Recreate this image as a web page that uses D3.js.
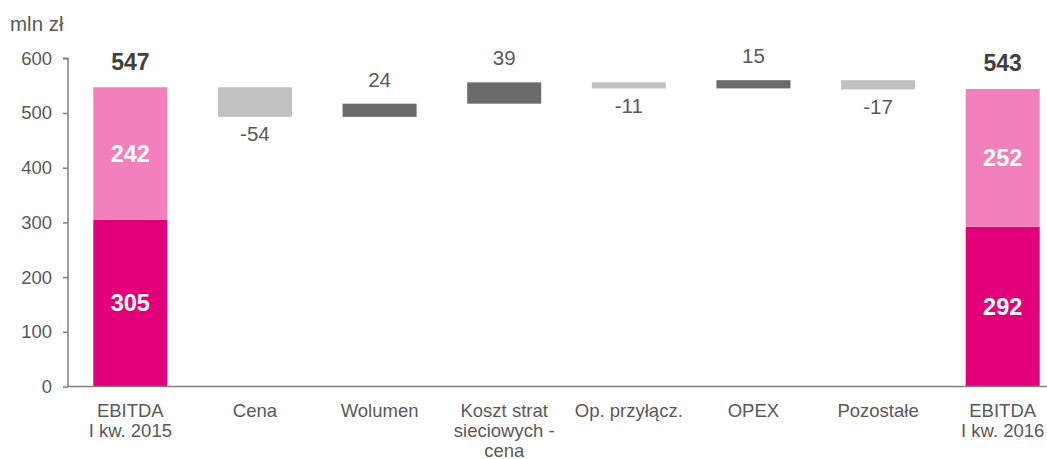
<!DOCTYPE html>
<html>
<head>
<meta charset="utf-8">
<script src="https://cdn.jsdelivr.net/npm/d3@7"></script>
<style>
  html, body { margin: 0; padding: 0; background: #fff; }
  svg { display: block; font-family: "Liberation Sans", Arial, sans-serif; }
</style>
</head>
<body>
<svg id="chart" width="1047" height="459"></svg>
<script>
// Waterfall of EBITDA change, mln zł
const categories = [
  ["EBITDA", "I kw. 2015"],
  ["Cena"],
  ["Wolumen"],
  ["Koszt strat", "sieciowych -", "cena"],
  ["Op. przyłącz."],
  ["OPEX"],
  ["Pozostałe"],
  ["EBITDA", "I kw. 2016"]
];
// Total bars: lower and upper stacked parts, plus printed totals
const totalLower = [305, 292];
const totalUpper = [242, 252];
const totalLabels = [547, 543];
// Changes between the two totals
const deltas = [-54, 24, 39, -11, 15, -17];
const yTicks = [0, 100, 200, 300, 400, 500, 600];

const colors = {
  lower: "#E2007A",
  upper: "#F280BC",
  negative: "#C1C1C1",
  positive: "#6B6B6B",
  axis: "#808080",
  text: "#595959",
  total: "#404040"
};

const svg = d3.select("#chart");
const margin = { left: 68, right: -18, top: 58.3, bottom: 72.5 };
const W = 1047, H = 459;

const x = d3.scaleBand()
  .domain(d3.range(categories.length))
  .range([margin.left, W - margin.right])
  .paddingInner(0.406)
  .paddingOuter(0.203);

const y = d3.scaleLinear()
  .domain([0, 600])
  .range([H - margin.bottom, margin.top]);

// Build the floating segments from the running total
let running = totalLower[0] + totalUpper[0];
const steps = deltas.map((d, i) => {
  const start = running;
  running += d;
  return { i: i + 1, value: d, from: start, to: running };
});

// Stacked total bars
const totals = [
  { i: 0, lower: totalLower[0], upper: totalUpper[0], label: totalLabels[0] },
  { i: categories.length - 1, lower: totalLower[1], upper: totalUpper[1], label: totalLabels[1] }
];

const g = svg.append("g");

totals.forEach(t => {
  g.append("rect")
    .attr("x", x(t.i)).attr("width", x.bandwidth())
    .attr("y", y(t.lower)).attr("height", y(0) - y(t.lower))
    .attr("fill", colors.lower);
  g.append("rect")
    .attr("x", x(t.i)).attr("width", x.bandwidth())
    .attr("y", y(t.lower + t.upper)).attr("height", y(t.lower) - y(t.lower + t.upper))
    .attr("fill", colors.upper);
  const cx = x(t.i) + x.bandwidth() / 2;
  g.append("text")
    .attr("x", cx).attr("y", (y(0) + y(t.lower)) / 2)
    .attr("dy", "0.35em").attr("text-anchor", "middle")
    .attr("fill", "#fff").attr("font-weight", "bold").attr("font-size", 23.5)
    .text(t.lower);
  g.append("text")
    .attr("x", cx).attr("y", (y(t.lower) + y(t.lower + t.upper)) / 2)
    .attr("dy", "0.35em").attr("text-anchor", "middle")
    .attr("fill", "#fff").attr("font-weight", "bold").attr("font-size", 23.5)
    .text(t.upper);
  g.append("text")
    .attr("x", cx).attr("y", y(t.lower + t.upper) - 17.5)
    .attr("text-anchor", "middle")
    .attr("fill", colors.total).attr("font-weight", "bold").attr("font-size", 23)
    .text(t.label);
});

steps.forEach(s => {
  const top = Math.max(s.from, s.to), bottom = Math.min(s.from, s.to);
  g.append("rect")
    .attr("x", x(s.i)).attr("width", x.bandwidth())
    .attr("y", y(top)).attr("height", y(bottom) - y(top))
    .attr("fill", s.value < 0 ? colors.negative : colors.positive);
  g.append("text")
    .attr("x", x(s.i) + x.bandwidth() / 2)
    .attr("y", s.value < 0 ? y(bottom) + 24.5 : y(top) - 17)
    .attr("text-anchor", "middle")
    .attr("fill", colors.text).attr("font-size", 20.5)
    .text(s.value);
});

// Y axis
const yAxis = g.append("g")
  .attr("transform", `translate(${margin.left},0)`)
  .call(d3.axisLeft(y).tickValues(yTicks).tickSize(5).tickPadding(11));
yAxis.select(".domain").attr("stroke", colors.axis).attr("stroke-width", 1.5)
  .attr("d", `M-5,${y(600)}H0V${y(0)}`);
yAxis.selectAll(".tick line").attr("stroke", colors.axis).attr("stroke-width", 1.5);
yAxis.selectAll(".tick text")
  .attr("fill", colors.text).attr("font-size", 18.5)
  .attr("font-family", "'Liberation Sans', Arial, sans-serif");

// X axis baseline and category labels
g.append("line")
  .attr("x1", margin.left).attr("x2", W)
  .attr("y1", y(0)).attr("y2", y(0))
  .attr("stroke", colors.axis).attr("stroke-width", 1.5);

categories.forEach((lines, i) => {
  const t = g.append("text")
    .attr("x", x(i) + x.bandwidth() / 2)
    .attr("y", y(0) + 30)
    .attr("text-anchor", "middle")
    .attr("fill", colors.text).attr("font-size", 18.5);
  lines.forEach((line, k) => {
    t.append("tspan")
      .attr("x", x(i) + x.bandwidth() / 2)
      .attr("dy", k === 0 ? 0 : 20)
      .text(line);
  });
});

// Unit label
g.append("text")
  .attr("x", 10).attr("y", 31)
  .attr("fill", colors.text).attr("font-size", 20.5)
  .text("mln zł");
</script>
</body>
</html>
